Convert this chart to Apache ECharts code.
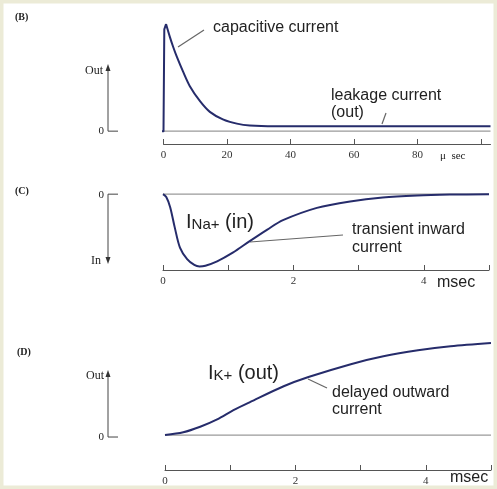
<!DOCTYPE html>
<html><head><meta charset="utf-8">
<script src="https://cdn.jsdelivr.net/npm/echarts@6/dist/echarts.min.js"></script>
<style>html,body{margin:0;padding:0;background:#fff}#c{width:497px;height:489px}</style>
</head><body><div id="c"></div>
<script>
// ---- Panel B: capacitive + leakage current (time in microseconds) ----
const bTicks = [0, 20, 40, 60, 80, 100];
const bTickLabels = [0, 20, 40, 60, 80];
const bRiseTime = [-11.5, 0, 0.25, 0.8];
const bRiseCurrent = [0, 0, 0.95, 1.0];
const bDecayTime = [0.8, 2.0, 3.0, 4.25, 6.1, 8.3, 11.5, 14.6, 18.7, 23.1, 27.2, 35, 50, 70, 90, 103];
const bDecayCurrent = [1.0, 0.88, 0.79, 0.69, 0.56, 0.42, 0.28, 0.18, 0.11, 0.07, 0.052, 0.045, 0.045, 0.045, 0.045, 0.045];
const bZeroTime = [0, 103];
const bZeroCurrent = [0, 0];

// ---- Panel C: transient inward Na+ current (ms) ----
const cTicks = [0, 1, 2, 3, 4, 5];
const cTickLabels = [0, 2, 4];
const cTime = [0, 0.05, 0.11, 0.18, 0.26, 0.37, 0.48, 0.56, 0.65, 0.83, 1.07, 1.33, 1.6, 1.84, 2.36, 2.87, 3.37, 3.9, 4.4, 5.0];
const cCurrent = [0, -0.04, -0.18, -0.46, -0.74, -0.90, -0.98, -1.0, -0.99, -0.93, -0.81, -0.65, -0.49, -0.36, -0.19, -0.10, -0.045, -0.018, -0.006, 0];
const cPreTime = [-0.51, -0.09];
const cPreCurrent = [0, 0];
const cZeroTime = [0, 5];
const cZeroCurrent = [0, 0];

// ---- Panel D: delayed outward K+ current (ms) ----
const dTicks = [0, 1, 2, 3, 4, 5];
const dTickLabels = [0, 2, 4];
const dTime = [0, 0.28, 0.54, 0.8, 1.05, 1.31, 1.82, 2.2, 2.85, 3.35, 3.88, 4.38, 5.0];
const dCurrent = [0, 0.03, 0.09, 0.17, 0.27, 0.36, 0.53, 0.63, 0.77, 0.855, 0.92, 0.965, 1.0];
const dPreTime = [-0.51, -0.08];
const dPreCurrent = [0, 0];
const dZeroTime = [0, 5];
const dZeroCurrent = [0, 0];

const zip = (xs, ys) => xs.map((x, i) => [x, ys[i]]);
const NAVY = '#262c6b';
const GRAY = '#9a9a9a';
const AX = '#555';
const SERIF = '"Liberation Serif","DejaVu Serif",serif';
const SANS = '"Liberation Sans",Arial,sans-serif';

function xAxisCfg(grid, max, ticks, labels) {
  return {
    type: 'value', gridIndex: grid, min: 0, max: max,
    axisLine: { show: true, onZero: false, lineStyle: { color: AX, width: 1 } },
    axisTick: { show: true, inside: true, length: 5, customValues: ticks, lineStyle: { color: AX, width: 1 } },
    axisLabel: { customValues: labels, fontFamily: SERIF, fontSize: 11, color: '#333', margin: 6 },
    splitLine: { show: false }
  };
}
function yAxisCfg(grid, min, max) {
  return { type: 'value', gridIndex: grid, min: min, max: max, show: false, splitLine: { show: false } };
}
function line(g, data, color, width, smooth) {
  return {
    type: 'line', xAxisIndex: g, yAxisIndex: g, data: data, symbol: 'none',
    smooth: smooth ? 0.3 : false,
    clip: false, silent: true, animation: false,
    lineStyle: { color: color, width: width, join: 'round' }
  };
}

const option = {
  backgroundColor: '#ffffff',
  animation: false,
  grid: [
    { left: 163.5, width: 327, top: 24, height: 120 },
    { left: 163, width: 326, top: 192, height: 78 },
    { left: 165, width: 326, top: 343, height: 127 }
  ],
  xAxis: [
    xAxisCfg(0, 103, bTicks, bTickLabels),
    xAxisCfg(1, 5, cTicks, cTickLabels),
    xAxisCfg(2, 5, dTicks, dTickLabels)
  ],
  yAxis: [
    yAxisCfg(0, -0.12, 1.0),
    yAxisCfg(1, -1.05, 0.03),
    yAxisCfg(2, -0.38, 1.0)
  ],
  series: [
    line(0, zip(bZeroTime, bZeroCurrent), GRAY, 1.2, false),
    line(0, zip(bRiseTime, bRiseCurrent), NAVY, 2, false),
    line(0, zip(bDecayTime, bDecayCurrent), NAVY, 2, true),
    line(1, zip(cZeroTime, cZeroCurrent), GRAY, 1.2, false),
    line(1, zip(cPreTime, cPreCurrent), GRAY, 1.2, false),
    line(1, zip(cTime, cCurrent), NAVY, 2, true),
    line(2, zip(dZeroTime, dZeroCurrent), GRAY, 1.2, false),
    line(2, zip(dPreTime, dPreCurrent), GRAY, 1.2, false),
    line(2, zip(dTime, dCurrent), NAVY, 2, true)
  ]
};

const chart = echarts.init(document.getElementById('c'), null, { renderer: 'canvas' });
chart.setOption(option);

const px = (g, x, y) => chart.convertToPixel({ gridIndex: g }, [x, y]);
const g = [];
const ln = (x1, y1, x2, y2, color, w) => g.push({ type: 'line', shape: { x1, y1, x2, y2 }, style: { stroke: color || '#444', lineWidth: w || 1 }, silent: true });
const tri = (pts) => g.push({ type: 'polygon', shape: { points: pts }, style: { fill: '#333' }, silent: true });
const txt = (x, y, text, font, align) => g.push({ type: 'text', x, y, silent: true, style: { text, font, fill: '#222', align: align || 'left', verticalAlign: 'middle' } });

// frame
g.push({ type: 'rect', shape: { x: 1.5, y: 1.5, width: 494, height: 486 }, style: { fill: 'none', stroke: '#ecebd7', lineWidth: 4 }, silent: true });

// panel labels
txt(15, 17, '(B)', 'bold 10px ' + SERIF);
txt(15, 191, '(C)', 'bold 10px ' + SERIF);
txt(17, 352, '(D)', 'bold 10px ' + SERIF);

// Panel B y indicator
const zB = px(0, 0, 0)[1];
ln(108, zB, 108, 69); ln(108, zB, 118, zB);
tri([[108, 64], [105.5, 71], [110.5, 71]]);
txt(103, 71, 'Out', '12px ' + SERIF, 'right');
txt(104, zB, '0', '11px ' + SERIF, 'right');
txt(440, 156, 'μ  sec', '11px ' + SERIF);

// Panel C y indicator
const zC = px(1, 0, 0)[1];
ln(108, zC, 108, 258); ln(108, zC, 118, zC);
tri([[108, 264], [105.5, 257], [110.5, 257]]);
txt(101, 261, 'In', '12px ' + SERIF, 'right');
txt(104, zC + 1, '0', '11px ' + SERIF, 'right');
txt(437, 283, 'msec', '16px ' + SANS);

// Panel D y indicator
const zD = px(2, 0, 0)[1] + 2;
ln(108, zD, 108, 375); ln(108, zD, 118, zD);
tri([[108, 370], [105.5, 377], [110.5, 377]]);
txt(104, 376, 'Out', '12px ' + SERIF, 'right');
txt(104, zD, '0', '11px ' + SERIF, 'right');
txt(450, 478, 'msec', '16px ' + SANS);

// annotations B
txt(213, 28, 'capacitive current', '16px ' + SANS);
ln(178, 47, 204, 30, '#666', 1.2);
txt(331, 96, 'leakage current', '16px ' + SANS);
txt(331, 113, '(out)', '16px ' + SANS);
ln(382, 124, 386, 113, '#666', 1.2);

// annotations C
g.push({ type: 'text', x: 186, y: 222, silent: true, style: {
  text: '{a|I}{b|Na+}{a| (in)}', verticalAlign: 'middle', fill: '#222',
  rich: { a: { fontFamily: SANS, fontSize: 20, verticalAlign: 'bottom', fill: '#222' },
          b: { fontFamily: SANS, fontSize: 15, verticalAlign: 'bottom', fill: '#222' } } } });
txt(352, 230, 'transient inward', '16px ' + SANS);
txt(352, 248, 'current', '16px ' + SANS);
ln(250, 242, 343, 235, '#666', 1.2);

// annotations D
g.push({ type: 'text', x: 208, y: 373, silent: true, style: {
  text: '{a|I}{b|K+}{a| (out)}', verticalAlign: 'middle', fill: '#222',
  rich: { a: { fontFamily: SANS, fontSize: 20, verticalAlign: 'bottom', fill: '#222' },
          b: { fontFamily: SANS, fontSize: 15, verticalAlign: 'bottom', fill: '#222' } } } });
txt(332, 393, 'delayed outward', '16px ' + SANS);
txt(332, 410, 'current', '16px ' + SANS);
ln(308, 379, 327, 388, '#666', 1.2);

chart.setOption({ graphic: { elements: g } });
</script></body></html>
